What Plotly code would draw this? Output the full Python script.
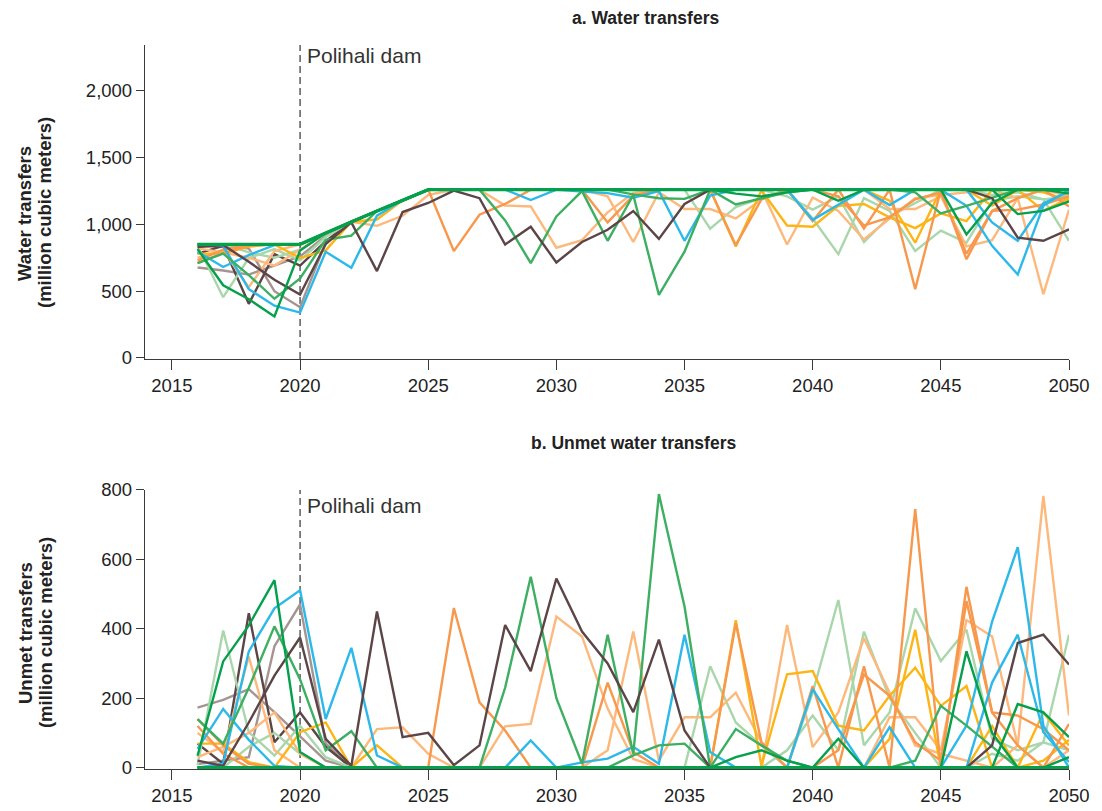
import plotly.graph_objects as go

years = [2016, 2017, 2018, 2019, 2020, 2021, 2022, 2023, 2024, 2025,
         2026, 2027, 2028, 2029, 2030, 2031, 2032, 2033, 2034, 2035,
         2036, 2037, 2038, 2039, 2040, 2041, 2042, 2043, 2044, 2045,
         2046, 2047, 2048, 2049, 2050]

# ---- Panel a: water transfers (million m3), per scenario ----
t_gb1 = [677, 655, 624, 690, 760, 915, 1020, 1100, 1180, 1260, 1260, 1260, 1260, 1260, 1260, 1260, 1260, 1260, 1260, 1260, 1260, 1260, 1260, 1260, 1260, 1260, 1260, 1260, 1260, 1260, 1260, 1260, 1260, 1260, 1260]
t_gb2 = [840, 830, 820, 500, 380, 865, 1020, 1100, 1180, 1260, 1260, 1260, 1260, 1260, 1260, 1260, 1260, 1260, 1260, 1260, 1260, 1260, 1260, 1260, 1260, 1260, 1260, 1260, 1260, 1260, 1260, 1260, 1260, 1260, 1260]
t_br2 = [781, 839, 405, 777, 691, 875, 1020, 1100, 1180, 1260, 1260, 1260, 1260, 1260, 1260, 1260, 1260, 1260, 1260, 1260, 1260, 1260, 1260, 1260, 1260, 1260, 1260, 1260, 1260, 1260, 1260, 1260, 1260, 1260, 1260]
t_lg2 = [850, 850, 790, 750, 810, 935, 1020, 1100, 1180, 1260, 1260, 1260, 1260, 1260, 1260, 1260, 1260, 1260, 1260, 1260, 1260, 1260, 1260, 1210, 1110, 1210, 868, 1060, 1160, 1260, 1260, 1220, 1240, 1187, 1210]
t_lg1 = [843, 455, 748, 815, 730, 905, 1020, 1100, 1180, 1260, 1260, 1260, 1260, 1260, 1260, 1260, 1260, 1260, 1260, 1260, 968, 1130, 1196, 1260, 1044, 777, 1196, 1101, 801, 953, 863, 1177, 1210, 1187, 877]
t_lo2 = [820, 790, 750, 691, 810, 935, 1020, 1100, 1180, 1260, 1260, 1260, 1260, 1260, 1260, 1260, 1210, 868, 1240, 1115, 1115, 1044, 1187, 1260, 1260, 1260, 1260, 1115, 1115, 1210, 835, 882, 1196, 1260, 1210]
t_lo1 = [750, 805, 530, 800, 850, 935, 1020, 989, 1064, 1220, 1260, 1260, 1141, 1134, 825, 882, 1090, 1235, 1260, 1260, 1260, 1260, 1260, 849, 1201, 1101, 887, 1044, 1196, 1220, 1240, 1260, 1196, 477, 1110]
t_go2 = [850, 850, 850, 850, 850, 935, 1020, 1100, 1180, 1260, 1260, 1260, 1260, 1260, 1260, 1260, 1260, 1260, 1260, 1260, 1260, 1260, 1260, 1260, 1260, 1260, 1260, 1177, 863, 1260, 1260, 1140, 1260, 1240, 1180]
t_go1 = [781, 781, 834, 850, 748, 805, 1020, 1036, 1180, 1260, 1260, 1260, 1260, 1260, 1260, 1260, 1260, 1260, 1260, 1260, 1260, 835, 1255, 991, 982, 1139, 1153, 1053, 972, 1082, 1025, 1260, 1260, 1101, 1196]
t_or2 = [730, 810, 850, 850, 850, 935, 1020, 1100, 1180, 1260, 1260, 1260, 1260, 1260, 1260, 1260, 1260, 1260, 1260, 1260, 1260, 1260, 1260, 1260, 1260, 1210, 992, 1053, 1187, 1240, 780, 1101, 1110, 1149, 1210]
t_or1 = [710, 786, 839, 850, 850, 935, 1020, 1100, 1180, 1260, 800, 1072, 1153, 1260, 1260, 1260, 1015, 1215, 1260, 1260, 1260, 844, 1187, 1260, 1025, 1260, 968, 1260, 515, 1260, 739, 1101, 1196, 1260, 1134]
t_cyA = [796, 681, 770, 845, 850, 935, 1020, 1100, 1180, 1260, 1260, 1260, 1260, 1182, 1260, 1245, 1234, 1200, 1249, 877, 1215, 1260, 1260, 1260, 1034, 1149, 1260, 1144, 1260, 1260, 1260, 1015, 877, 1158, 1244]
t_cyB = [850, 839, 515, 391, 339, 795, 675, 1065, 1180, 1260, 1260, 1260, 1260, 1260, 1260, 1260, 1260, 1260, 1260, 1260, 1260, 1260, 1260, 1260, 1260, 1260, 1260, 1260, 1260, 1260, 1139, 839, 625, 1139, 1260]
t_mg2 = [850, 850, 850, 850, 850, 935, 1020, 1100, 1180, 1260, 1260, 1260, 1260, 1260, 1260, 1260, 1260, 1225, 1196, 1191, 1260, 1149, 1196, 1240, 1260, 1260, 1260, 1260, 1240, 1082, 1139, 1200, 1260, 1260, 1260]
t_mg1 = [710, 781, 620, 443, 596, 885, 915, 1100, 1180, 1260, 1260, 1260, 1030, 710, 1060, 1249, 877, 1220, 472, 796, 1260, 1260, 1260, 1260, 1260, 1260, 1260, 1260, 1260, 1260, 1260, 1260, 1260, 1260, 1260]
t_br1 = [830, 845, 720, 585, 475, 852, 1015, 650, 1092, 1160, 1253, 1196, 849, 982, 715, 868, 960, 1100, 891, 1153, 1260, 1260, 1260, 1260, 1260, 1260, 1260, 1260, 1260, 1260, 1260, 1196, 901, 877, 963]
t_dg2 = [850, 850, 850, 850, 850, 935, 1020, 1100, 1180, 1260, 1260, 1260, 1260, 1260, 1260, 1260, 1260, 1260, 1260, 1260, 1260, 1230, 1210, 1240, 1260, 1260, 1260, 1260, 1260, 1260, 1260, 1260, 1077, 1101, 1172]
t_dg1 = [816, 544, 440, 310, 805, 935, 1020, 1100, 1180, 1260, 1260, 1260, 1260, 1260, 1260, 1260, 1260, 1260, 1260, 1260, 1260, 1260, 1260, 1260, 1260, 1177, 1260, 1260, 1260, 1260, 925, 1160, 1260, 1260, 1230]
t_base = [850, 850, 850, 850, 850, 935, 1020, 1100, 1180, 1260, 1260, 1260, 1260, 1260, 1260, 1260, 1260, 1260, 1260, 1260, 1260, 1260, 1260, 1260, 1260, 1260, 1260, 1260, 1260, 1260, 1260, 1260, 1260, 1260, 1260]

# ---- Panel b: unmet water transfers (million m3), per scenario ----
u_gb1 = [173, 195, 226, 160, 90, 20, 0, 0, 0, 0, 0, 0, 0, 0, 0, 0, 0, 0, 0, 0, 0, 0, 0, 0, 0, 0, 0, 0, 0, 0, 0, 0, 0, 0, 0]
u_gb2 = [10, 20, 30, 350, 470, 70, 0, 0, 0, 0, 0, 0, 0, 0, 0, 0, 0, 0, 0, 0, 0, 0, 0, 0, 0, 0, 0, 0, 0, 0, 0, 0, 0, 0, 0]
u_br2 = [69, 11, 445, 73, 159, 60, 0, 0, 0, 0, 0, 0, 0, 0, 0, 0, 0, 0, 0, 0, 0, 0, 0, 0, 0, 0, 0, 0, 0, 0, 0, 0, 0, 0, 0]
u_lg2 = [0, 0, 60, 100, 40, 0, 0, 0, 0, 0, 0, 0, 0, 0, 0, 0, 0, 0, 0, 0, 0, 0, 0, 50, 150, 50, 392, 200, 100, 0, 0, 40, 20, 73, 50]
u_lg1 = [7, 395, 102, 35, 120, 30, 0, 0, 0, 0, 0, 0, 0, 0, 0, 0, 0, 0, 0, 0, 292, 130, 64, 0, 216, 483, 64, 159, 459, 307, 397, 83, 50, 73, 383]
u_lo2 = [30, 60, 100, 159, 40, 0, 0, 0, 0, 0, 0, 0, 0, 0, 0, 0, 50, 392, 20, 145, 145, 216, 73, 0, 0, 0, 0, 145, 145, 50, 425, 378, 64, 0, 50]
u_lo1 = [100, 45, 320, 50, 0, 0, 0, 111, 116, 40, 0, 0, 119, 126, 435, 378, 170, 25, 0, 0, 0, 0, 0, 411, 59, 159, 373, 216, 64, 40, 20, 0, 64, 783, 150]
u_go2 = [0, 0, 0, 0, 0, 0, 0, 0, 0, 0, 0, 0, 0, 0, 0, 0, 0, 0, 0, 0, 0, 0, 0, 0, 0, 0, 0, 83, 397, 0, 0, 120, 0, 20, 80]
u_go1 = [69, 69, 16, 0, 102, 130, 0, 64, 0, 0, 0, 0, 0, 0, 0, 0, 0, 0, 0, 0, 0, 425, 5, 269, 278, 121, 107, 207, 288, 178, 235, 0, 0, 159, 64]
u_or2 = [120, 40, 0, 0, 0, 0, 0, 0, 0, 0, 0, 0, 0, 0, 0, 0, 0, 0, 0, 0, 0, 0, 0, 0, 0, 50, 268, 207, 73, 20, 480, 159, 150, 111, 50]
u_or1 = [140, 64, 11, 0, 0, 0, 0, 0, 0, 0, 460, 188, 107, 0, 0, 0, 245, 45, 0, 0, 0, 416, 73, 0, 235, 0, 292, 0, 745, 0, 521, 159, 64, 0, 126]
u_cyA = [54, 169, 80, 5, 0, 0, 0, 0, 0, 0, 0, 0, 0, 78, 0, 15, 26, 60, 11, 383, 45, 0, 0, 0, 226, 111, 0, 116, 0, 0, 0, 245, 383, 102, 16]
u_cyB = [0, 11, 335, 459, 511, 140, 345, 35, 0, 0, 0, 0, 0, 0, 0, 0, 0, 0, 0, 0, 0, 0, 0, 0, 0, 0, 0, 0, 0, 0, 121, 421, 635, 121, 0]
u_mg2 = [0, 0, 0, 0, 0, 0, 0, 0, 0, 0, 0, 0, 0, 0, 0, 0, 0, 35, 64, 69, 0, 111, 64, 20, 0, 0, 0, 0, 20, 178, 121, 60, 0, 0, 0]
u_mg1 = [140, 69, 230, 407, 254, 50, 105, 0, 0, 0, 0, 0, 230, 550, 200, 11, 383, 40, 788, 464, 0, 0, 0, 0, 0, 0, 0, 0, 0, 0, 0, 0, 0, 0, 0]
u_br1 = [20, 5, 130, 265, 375, 83, 5, 450, 88, 100, 7, 64, 411, 278, 545, 392, 300, 160, 369, 107, 0, 0, 0, 0, 0, 0, 0, 0, 0, 0, 0, 64, 359, 383, 297]
u_dg2 = [0, 0, 0, 0, 0, 0, 0, 0, 0, 0, 0, 0, 0, 0, 0, 0, 0, 0, 0, 0, 0, 30, 50, 20, 0, 0, 0, 0, 0, 0, 0, 0, 183, 159, 88]
u_dg1 = [34, 306, 410, 540, 45, 0, 0, 0, 0, 0, 0, 0, 0, 0, 0, 0, 0, 0, 0, 0, 0, 0, 0, 0, 0, 83, 0, 0, 0, 0, 335, 100, 0, 0, 30]
u_base = [0, 0, 0, 0, 0, 0, 0, 0, 0, 0, 0, 0, 0, 0, 0, 0, 0, 0, 0, 0, 0, 0, 0, 0, 0, 0, 0, 0, 0, 0, 0, 0, 0, 0, 0]

GRAYBROWN = "#a59592"
BROWN = "#5c4547"
LIGHTGREEN = "#a9d6ab"
LIGHTORANGE = "#fdb87c"
GOLD = "#fdb515"
ORANGE = "#f7984c"
CYAN = "#2cb9ea"
MIDGREEN = "#3daf62"
DARKGREEN = "#05a04c"

series = [
    (t_gb1, u_gb1, GRAYBROWN), (t_gb2, u_gb2, GRAYBROWN), (t_br2, u_br2, BROWN),
    (t_lg2, u_lg2, LIGHTGREEN), (t_lg1, u_lg1, LIGHTGREEN),
    (t_lo2, u_lo2, LIGHTORANGE), (t_lo1, u_lo1, LIGHTORANGE),
    (t_go2, u_go2, GOLD), (t_go1, u_go1, GOLD),
    (t_or2, u_or2, ORANGE), (t_or1, u_or1, ORANGE),
    (t_cyA, u_cyA, CYAN), (t_cyB, u_cyB, CYAN),
    (t_mg2, u_mg2, MIDGREEN), (t_mg1, u_mg1, MIDGREEN),
    (t_br1, u_br1, BROWN),
    (t_dg2, u_dg2, DARKGREEN), (t_dg1, u_dg1, DARKGREEN),
    (t_base, u_base, DARKGREEN),
]

fig = go.Figure()
for t, u, c in series:
    w = 3.4 if t is t_base else 2.4
    fig.add_trace(go.Scatter(x=years, y=t, mode="lines", line=dict(color=c, width=w),
                             xaxis="x", yaxis="y", showlegend=False, hoverinfo="skip"))
    fig.add_trace(go.Scatter(x=years, y=u, mode="lines", line=dict(color=c, width=w),
                             xaxis="x2", yaxis="y2", showlegend=False, hoverinfo="skip"))

FONT = "Liberation Sans, Arial, Helvetica, sans-serif"
AX = "#3a3a3a"
TICKSIZE = 18.5
xticks = [2015, 2020, 2025, 2030, 2035, 2040, 2045, 2050]
common_x = dict(range=[2013.95, 2050], tickvals=xticks, ticks="outside", ticklen=10,
                tickwidth=1.3, tickcolor=AX, showline=True, linecolor=AX, linewidth=1.3,
                showgrid=False, zeroline=False, automargin=False,
                tickfont=dict(size=TICKSIZE, color="#222"))
common_y = dict(ticks="outside", ticklen=8, tickwidth=1.3, tickcolor=AX, showline=True,
                linecolor=AX, linewidth=1.3, showgrid=False, zeroline=False, automargin=False,
                tickfont=dict(size=TICKSIZE, color="#222"))

TITLE_FONT = dict(size=18.5, color="#222")
fig.update_layout(
    width=1102, height=811, autosize=False,
    margin=dict(l=145, r=33, t=45, b=42),
    paper_bgcolor="white", plot_bgcolor="white",
    font=dict(family=FONT, color="#222"),
    xaxis=dict(domain=[0, 1], anchor="y", **common_x),
    yaxis=dict(domain=[0.5663, 1], anchor="x", range=[-8, 2343],
               tickvals=[0, 500, 1000, 1500, 2000],
               ticktext=["0", "500", "1,000", "1,500", "2,000"], **common_y),
    xaxis2=dict(domain=[0, 1], anchor="y2", **common_x),
    yaxis2=dict(domain=[0, 0.3854], anchor="x2", range=[-4, 800],
                tickvals=[0, 200, 400, 600, 800],
                ticktext=["0", "200", "400", "600", "800"], **common_y),
    shapes=[
        dict(type="line", xref="x", yref="y domain", x0=2020, x1=2020, y0=0, y1=1,
             line=dict(color="#333", width=1.2, dash="7px,4px"), layer="below"),
        dict(type="line", xref="x2", yref="y2 domain", x0=2020, x1=2020, y0=0, y1=1,
             line=dict(color="#333", width=1.2, dash="7px,4px"), layer="below"),
    ],
    annotations=[
        dict(text="<b>a. Water transfers</b>", xref="paper", yref="paper", x=0.542, y=1.037,
             xanchor="center", yanchor="middle", showarrow=False, font=dict(size=17.5, color="#222")),
        dict(text="<b>b. Unmet water transfers</b>", xref="paper", yref="paper", x=0.529, y=0.4503,
             xanchor="center", yanchor="middle", showarrow=False, font=dict(size=17.5, color="#222")),
        dict(text="Polihali dam", xref="x", yref="paper", x=2020, xshift=5, y=0.985,
             xanchor="left", yanchor="middle", showarrow=False, font=dict(size=21, color="#333")),
        dict(text="Polihali dam", xref="x2", yref="paper", x=2020, xshift=5, y=0.3646,
             xanchor="left", yanchor="middle", showarrow=False, font=dict(size=21, color="#333")),
        # y-axis titles (two lines each, tighter spacing than Plotly's default)
        dict(text="<b>Water transfers</b>", xref="paper", yref="paper", x=-0.1299, y=0.768,
             textangle=-90, xanchor="center", yanchor="middle", showarrow=False, font=TITLE_FONT),
        dict(text="<b>(million cubic meters)</b>", xref="paper", yref="paper", x=-0.1082, y=0.768,
             textangle=-90, xanchor="center", yanchor="middle", showarrow=False, font=TITLE_FONT),
        dict(text="<b>Unmet transfers</b>", xref="paper", yref="paper", x=-0.1299, y=0.1878,
             textangle=-90, xanchor="center", yanchor="middle", showarrow=False, font=TITLE_FONT),
        dict(text="<b>(million cubic meters)</b>", xref="paper", yref="paper", x=-0.1082, y=0.1878,
             textangle=-90, xanchor="center", yanchor="middle", showarrow=False, font=TITLE_FONT),
    ],
)

fig.write_html("out.html", config={"displayModeBar": False},
               post_script="document.body.style.margin='0';")
